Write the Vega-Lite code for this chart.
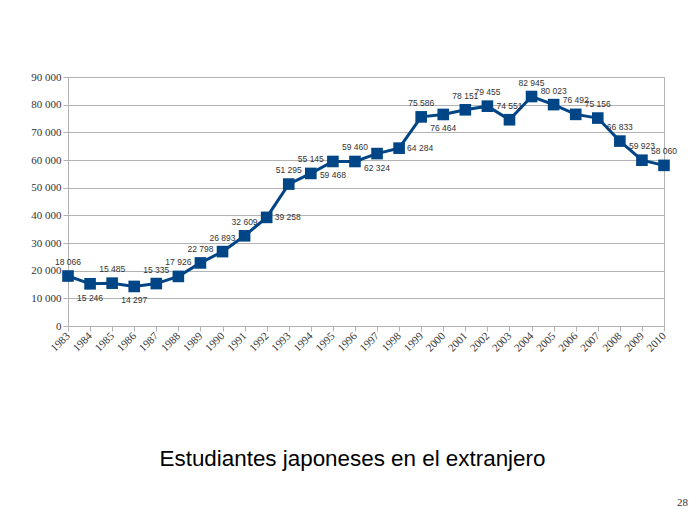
{
  "$schema": "https://vega.github.io/schema/vega-lite/v6.json",
  "width": 596,
  "height": 249,
  "autosize": {"type": "none"},
  "padding": {"left": 68, "top": 77, "right": 34, "bottom": 186},
  "background": "white",
  "title": {
    "text": "28",
    "orient": "bottom",
    "anchor": "end",
    "frame": "group",
    "font": "'Liberation Serif', 'DejaVu Serif', serif",
    "fontSize": 11,
    "fontWeight": "normal",
    "color": "#333333",
    "dx": 24,
    "offset": 28
  },
  "data": {
    "values": [
      {"year": 1983, "students": 18066},
      {"year": 1984, "students": 15246},
      {"year": 1985, "students": 15485},
      {"year": 1986, "students": 14297},
      {"year": 1987, "students": 15335},
      {"year": 1988, "students": 17926},
      {"year": 1989, "students": 22798},
      {"year": 1990, "students": 26893},
      {"year": 1991, "students": 32609},
      {"year": 1992, "students": 39258},
      {"year": 1993, "students": 51295},
      {"year": 1994, "students": 55145},
      {"year": 1995, "students": 59468},
      {"year": 1996, "students": 59460},
      {"year": 1997, "students": 62324},
      {"year": 1998, "students": 64284},
      {"year": 1999, "students": 75586},
      {"year": 2000, "students": 76464},
      {"year": 2001, "students": 78151},
      {"year": 2002, "students": 79455},
      {"year": 2003, "students": 74551},
      {"year": 2004, "students": 82945},
      {"year": 2005, "students": 80023},
      {"year": 2006, "students": 76492},
      {"year": 2007, "students": 75156},
      {"year": 2008, "students": 66833},
      {"year": 2009, "students": 59923},
      {"year": 2010, "students": 58060}
    ]
  },
  "encoding": {
    "x": {
      "field": "year",
      "type": "ordinal",
      "scale": {"type": "point", "padding": 0},
      "axis": {
        "title": "Estudiantes japoneses en el extranjero",
        "titleFont": "Liberation Sans",
        "titleFontSize": 22.4,
        "titleFontWeight": "normal",
        "titleColor": "#000000",
        "titleX": 284,
        "titleY": 139,
        "titleAlign": "center",
        "titleBaseline": "alphabetic",
        "labelAngle": -45,
        "labelAlign": "right",
        "labelBaseline": "middle",
        "labelFont": "'Liberation Serif', 'DejaVu Serif', serif",
        "labelFontSize": 11,
        "labelColor": "#333333",
        "labelPadding": 3,
        "tickColor": "#b3b3b3",
        "tickSize": 5,
        "domainColor": "#b3b3b3",
        "grid": false
      }
    },
    "y": {
      "field": "students",
      "type": "quantitative",
      "scale": {"domain": [0, 90000], "nice": false},
      "axis": {
        "title": null,
        "values": [0, 10000, 20000, 30000, 40000, 50000, 60000, 70000, 80000, 90000],
        "labelExpr": "replace(format(datum.value, ','), ',', ' ')",
        "labelFont": "'Liberation Serif', 'DejaVu Serif', serif",
        "labelFontSize": 11,
        "labelColor": "#333333",
        "labelPadding": 2,
        "tickColor": "#b3b3b3",
        "tickSize": 5,
        "domainColor": "#b3b3b3",
        "grid": true,
        "gridColor": "#b3b3b3"
      }
    }
  },
  "layer": [
    {"mark": {"type": "line", "color": "#004586", "strokeWidth": 3}},
    {"mark": {"type": "point", "shape": "square", "filled": true, "size": 135, "color": "#004586", "opacity": 1}},
    {
      "transform": [{"filter": {"not": {"field": "year", "oneOf": [1984, 1986, 1995, 1997, 2000, 1992, 1998]}}}],
      "mark": {"type": "text", "font": "Liberation Sans", "fontSize": 8.5, "color": "#333333", "dy": -14},
      "encoding": {"text": {"field": "students", "type": "quantitative", "format": ",d"}}
    },
    {
      "transform": [{"filter": {"field": "year", "oneOf": [1984, 1986, 1995, 1997, 2000]}}],
      "mark": {"type": "text", "font": "Liberation Sans", "fontSize": 8.5, "color": "#333333", "dy": 14},
      "encoding": {"text": {"field": "students", "type": "quantitative", "format": ",d"}}
    },
    {
      "transform": [{"filter": {"field": "year", "oneOf": [1992, 1998]}}],
      "mark": {"type": "text", "font": "Liberation Sans", "fontSize": 8.5, "color": "#333333", "dx": 21},
      "encoding": {"text": {"field": "students", "type": "quantitative", "format": ",d"}}
    }
  ],
  "config": {
    "view": {"stroke": "#b3b3b3"},
    "locale": {"number": {"decimal": ",", "thousands": " ", "grouping": [3], "currency": ["", " €"]}}
  }
}
